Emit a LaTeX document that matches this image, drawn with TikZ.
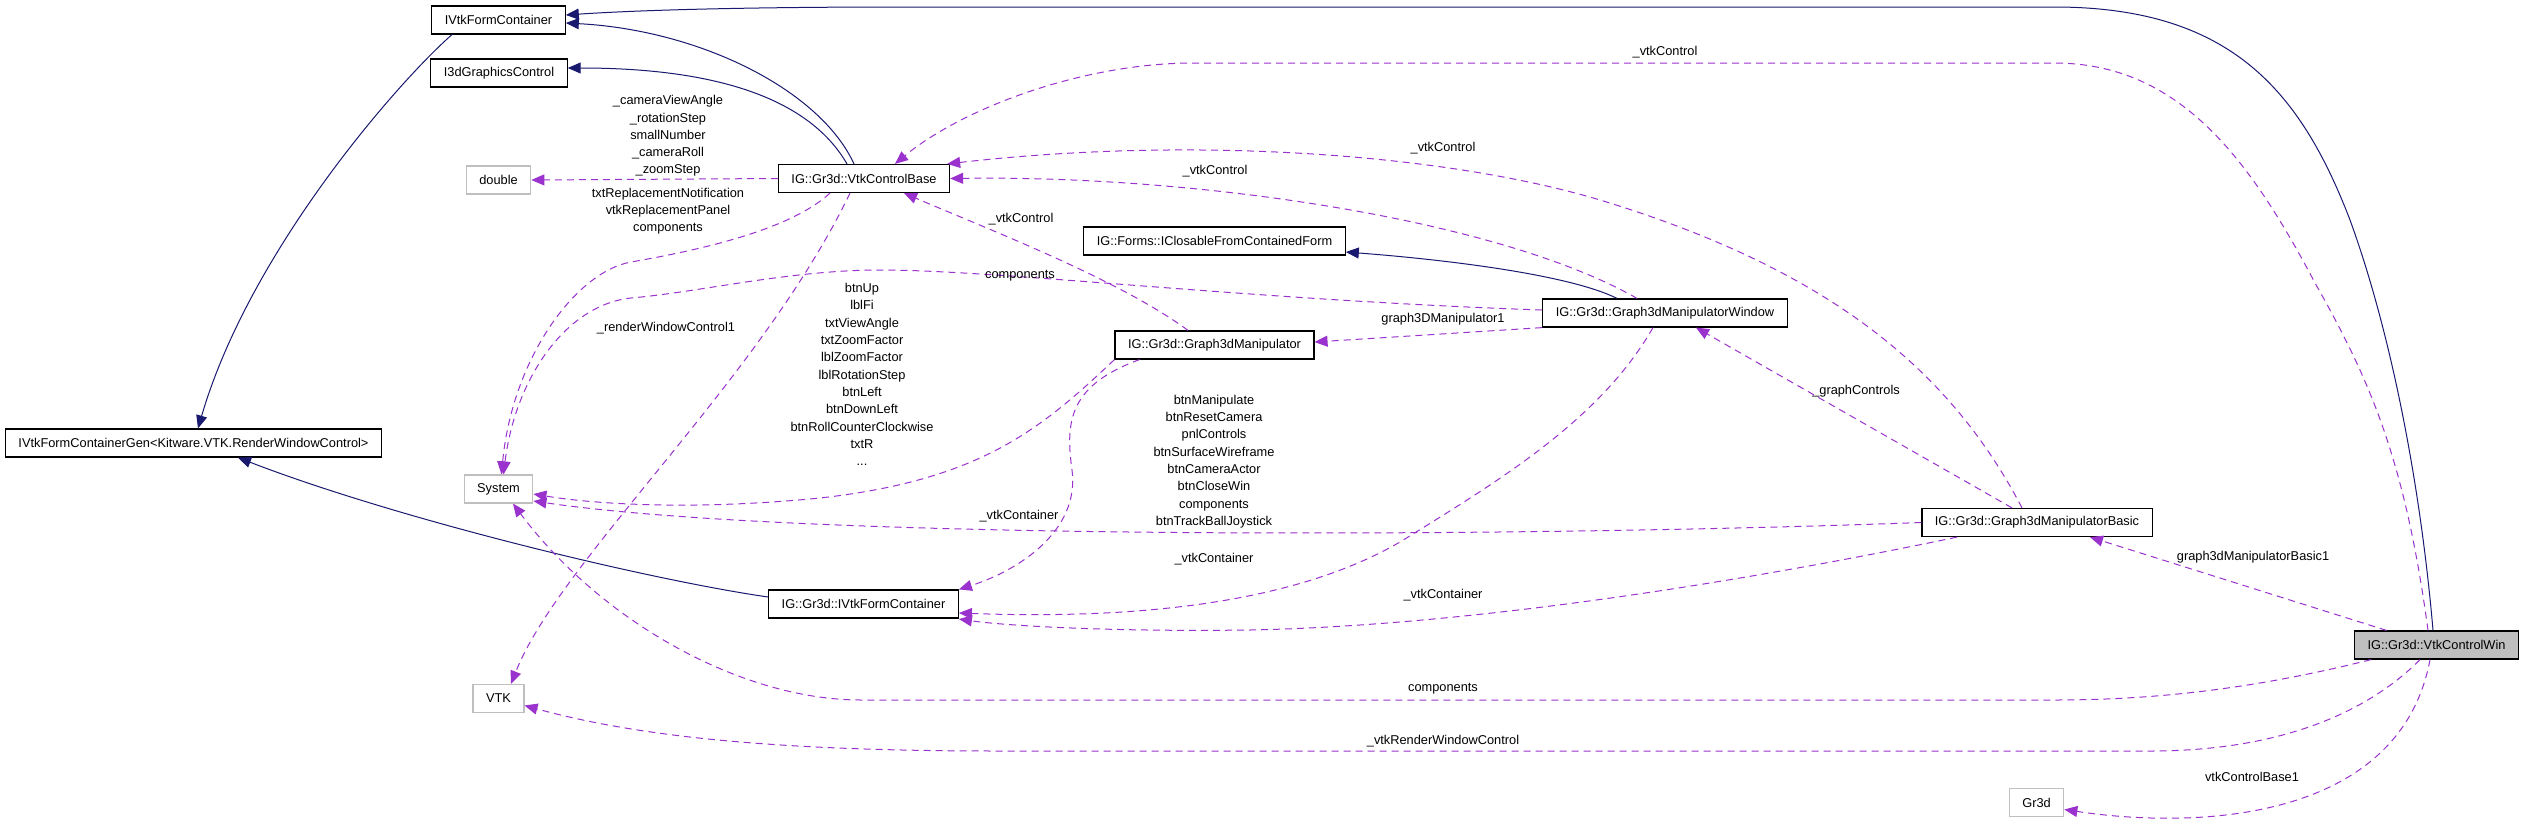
\documentclass[tikz,border=0pt]{standalone}
\usepackage{fontspec}
\setmainfont{Liberation Sans}
\usepackage{tikz}
\usetikzlibrary{arrows.meta}
\usepackage{xcolor}
\definecolor{inhcolor}{HTML}{191970}
\definecolor{usecolor}{HTML}{9A32CD}
\newcommand{\dgfont}{\fontsize{12.8}{17.3}\selectfont}

\begin{document}
\begin{tikzpicture}[x=1pt,y=-1pt]
  \tikzset{classnode/.style={draw=black,line width=1.2pt,fill=white,minimum height=28pt,inner xsep=13pt,inner ysep=0pt,font=\dgfont}}
  \tikzset{extnode/.style={classnode,draw=gray!50}}
  \tikzset{mainnode/.style={classnode,fill=gray!50}}
  \tikzset{inhedge/.style={draw=inhcolor,line width=1pt,-{Triangle[length=13pt,width=11pt]}}}
  \tikzset{useedge/.style={draw=usecolor,line width=1pt,dash pattern=on 7pt off 5pt,-{Triangle[length=13pt,width=11pt]}}}
  \tikzset{edgelabel/.style={font=\dgfont,inner sep=0pt,align=center}}
  \useasboundingbox[fill=white] (0,0) rectangle (2523,825);
  \node[classnode] (ivfc) at (498.5,20) {IVtkFormContainer};
  \node[classnode] (i3d) at (499,73) {I3dGraphicsControl};
  \node[extnode] (dbl) at (498.5,180) {double};
  \node[classnode] (cb) at (864,178.5) {IG::Gr3d::VtkControlBase};
  \node[classnode] (gen) at (193.5,443) {IVtkFormContainerGen<Kitware.VTK.RenderWindowControl>};
  \node[extnode] (sys) at (498.5,489) {System};
  \node[extnode] (vtk) at (498.5,698.5) {VTK};
  \node[classnode] (ifc) at (863.5,604) {IG::Gr3d::IVtkFormContainer};
  \node[classnode] (gm) at (1214.5,345) {IG::Gr3d::Graph3dManipulator};
  \node[classnode] (icf) at (1214.5,241) {IG::Forms::IClosableFromContainedForm};
  \node[classnode] (gmw) at (1665,313) {IG::Gr3d::Graph3dManipulatorWindow};
  \node[classnode] (gmb) at (2037,522.5) {IG::Gr3d::Graph3dManipulatorBasic};
  \node[mainnode] (cw) at (2436.5,645) {IG::Gr3d::VtkControlWin};
  \node[extnode] (gr3d) at (2036.5,802.5) {Gr3d};
  % inheritance
  \draw[inhedge] ([xshift=-3.5pt]cw.north) .. controls (2420,480) and (2390,330) .. (2350,220) .. controls (2300,90) and (2230,7) .. (2054,7) -- (900,7) .. controls (750,7) and (640,10) .. ([yshift=5pt]ivfc.east);
  \draw[inhedge] ([xshift=-10pt]cb.north) .. controls (820,90) and (700,30) .. ([yshift=-3pt]ivfc.east);
  \draw[inhedge] ([xshift=-17pt]cb.north) .. controls (810,100) and (720,68) .. ([yshift=5pt]i3d.east);
  \draw[inhedge] ([xshift=-46.5pt]ivfc.south) .. controls (400,80) and (250,250) .. ([xshift=4.5pt]gen.north);
  \draw[inhedge] ([yshift=7pt]ifc.west) .. controls (650,580) and (400,520) .. ([xshift=44.5pt]gen.south);
  \draw[inhedge] ([xshift=-48pt]gmw.north) .. controls (1570,275) and (1450,260) .. ([yshift=-11pt]icf.east);
  % usage
  \draw[useedge] ([xshift=-8.5pt]cw.north) .. controls (2405,460) and (2370,380) .. (2315,283) .. controls (2250,160) and (2180,63) .. (2054,63) -- (1194,63) .. controls (1080,63) and (960,110) .. ([xshift=31pt]cb.north);
  \node[edgelabel] (l1) at (1665,52) {\_vtkControl};
  \draw[useedge] ([xshift=-15pt]gmb.north) .. controls (1950,370) and (1830,270) .. (1600,200) .. controls (1450,155) and (1200,135) .. ([xshift=-3pt]cb.north east);
  \node[edgelabel] (l2) at (1443,148) {\_vtkControl};
  \draw[useedge] ([xshift=-28pt]gmw.north) .. controls (1500,220) and (1200,175) .. (cb.east);
  \node[edgelabel] (l3) at (1215,171) {\_vtkControl};
  \draw[useedge] ([xshift=-26.5pt]gm.north) .. controls (1120,280) and (990,230) .. ([xshift=40pt]cb.south);
  \node[edgelabel] (l4) at (1021,219) {\_vtkControl};
  \draw[useedge] (cb.west) -- (dbl.east);
  \node[edgelabel] (l5) at (668,136) {\_cameraViewAngle\\\_rotationStep\\smallNumber\\\_cameraRoll\\\_zoomStep};
  \draw[useedge] ([xshift=-34pt]cb.south) .. controls (790,230) and (700,250) .. (631,262) .. controls (575,272) and (512,360) .. ([xshift=3pt]sys.north);
  \node[edgelabel] (l6) at (668,211) {txtReplacementNotification\\vtkReplacementPanel\\components};
  \draw[useedge] ([yshift=3pt]gmw.west) .. controls (1250,300) and (1000,270) .. (880,270) .. controls (790,270) and (700,292) .. (631,298) .. controls (565,305) and (515,380) .. ([xshift=5pt]sys.north);
  \node[edgelabel] (l7) at (1020,276) {components};
  \draw[useedge] ([xshift=-14pt]cb.south) .. controls (760,380) and (560,560) .. ([xshift=12.5pt]vtk.north);
  \node[edgelabel] (l8) at (666,328) {\_renderWindowControl1};
  \draw[useedge] (gm.south west) .. controls (1040,430) and (980,480) .. (820,498) .. controls (700,510) and (600,505) .. ([yshift=-5pt]sys.east);
  \node[edgelabel] (l9) at (862,374.5) {btnUp\\lblFi\\txtViewAngle\\txtZoomFactor\\lblZoomFactor\\lblRotationStep\\btnLeft\\btnDownLeft\\btnRollCounterClockwise\\txtR\\...};
  \draw[useedge] (gmb.west) .. controls (1500,538) and (800,540) .. ([yshift=-12pt]sys.east);
  \node[edgelabel] (l10) at (1214,461.5) {btnManipulate\\btnResetCamera\\pnlControls\\btnSurfaceWireframe\\btnCameraActor\\btnCloseWin\\components\\btnTrackBallJoystick};
  \draw[useedge] ([xshift=-75pt]gm.south) .. controls (1070,385) and (1065,420) .. (1072,470) .. controls (1080,530) and (1020,570) .. (ifc.north east);
  \node[edgelabel] (l11) at (1019,516) {\_vtkContainer};
  \draw[useedge] ([xshift=-12pt]gmw.south) .. controls (1600,420) and (1500,480) .. (1400,542) .. controls (1300,600) and (1150,620) .. ([yshift=-9pt]ifc.east);
  \node[edgelabel] (l12) at (1214,559) {\_vtkContainer};
  \draw[useedge] ([xshift=-80pt]gmb.south) .. controls (1800,570) and (1500,625) .. (1250,630) .. controls (1100,632) and (1000,625) .. ([yshift=-15pt]ifc.east);
  \node[edgelabel] (l13) at (1443,595) {\_vtkContainer};
  \draw[useedge] ([xshift=-65.5pt]cw.south) .. controls (2250,690) and (2150,700) .. (2054,700) -- (861,700) .. controls (740,700) and (600,620) .. ([xshift=14.5pt]sys.south);
  \node[edgelabel] (l14) at (1443,689) {components};
  \draw[useedge] ([xshift=-16.5pt]cw.south) .. controls (2380,700) and (2300,751) .. (2150,751) -- (1000,751) .. controls (800,751) and (650,740) .. ([yshift=-7pt]vtk.east);
  \node[edgelabel] (l15) at (1443,741) {\_vtkRenderWindowControl};
  \draw[useedge] ([xshift=-6.5pt]cw.south) .. controls (2400,820) and (2200,830) .. ([yshift=-7pt]gr3d.east);
  \node[edgelabel] (l16) at (2252,777) {vtkControlBase1};
  \draw[useedge] ([xshift=-50pt]cw.north) -- ([xshift=53pt]gmb.south);
  \node[edgelabel] (l17) at (2253,557) {graph3dManipulatorBasic1};
  \draw[useedge] (gmw.south west) -- ([yshift=3pt]gm.east);
  \node[edgelabel] (l18) at (1443,319) {graph3DManipulator1};
  \draw[useedge] ([xshift=-25pt]gmb.north) -- ([xshift=31pt]gmw.south);
  \node[edgelabel] (l19) at (1856,391) {\_graphControls};
\end{tikzpicture}
\end{document}
